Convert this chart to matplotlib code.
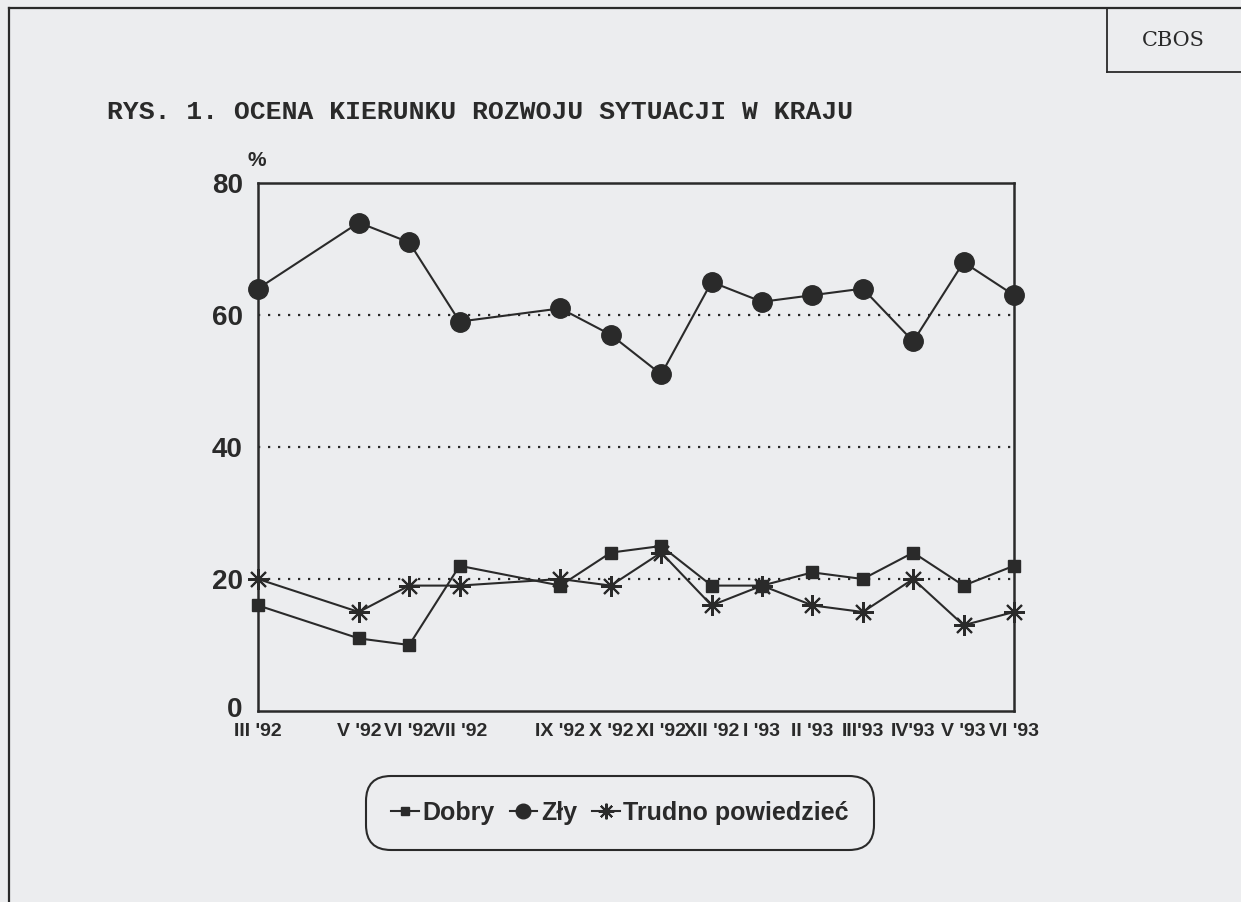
import numpy as np
import matplotlib
matplotlib.use("Agg")
import matplotlib.pyplot as plt
import matplotlib.transforms as mtransforms
from matplotlib.lines import Line2D

# month index from III '92 (0) to VI '93 (15); IV '92 and VIII '92 missing
months = [0, 2, 3, 4, 6, 7, 8, 9, 10, 11, 12, 13, 14, 15]
labels = ["III '92", "V '92", "VI '92", "VII '92", "IX '92", "X '92", "XI '92",
          "XII '92", "I '93", "II '93", "III'93", "IV'93", "V '93", "VI '93"]
dobry = [16, 11, 10, 22, 19, 24, 25, 19, 19, 21, 20, 24, 19, 22]
zly = [64, 74, 71, 59, 61, 57, 51, 65, 62, 63, 64, 56, 68, 63]
trudno = [20, 15, 19, 19, 20, 19, 24, 16, 19, 16, 15, 20, 13, 15]

W, H = 1241, 902
bg = '#ecedef'
ink = '#2a2a2a'
sans = ['Liberation Sans', 'DejaVu Sans']

fig = plt.figure(figsize=[W / 100, H / 100], dpi=100, facecolor=bg)

def fx(px):
    return px / W

def fy(py):
    return 1 - py / H

# outer frame and CBOS box
fig.add_artist(Line2D([fx(9), 1.0], [fy(8), fy(8)], color=ink, lw=1.6))
fig.add_artist(Line2D([fx(9), fx(9)], [fy(8), 0.0], color=ink, lw=1.6))
fig.add_artist(Line2D([fx(1107), fx(1107)], [fy(8), fy(72)], color=ink, lw=1.3))
fig.add_artist(Line2D([fx(1107), 1.0], [fy(72), fy(72)], color=ink, lw=1.3))
fig.text(fx(1173), fy(40), "CBOS", family='DejaVu Serif', fontsize=15,
         color=ink, ha='center', va='center')

fig.text(fx(107), fy(112), "RYS. 1. OCENA KIERUNKU ROZWOJU SYTUACJI W KRAJU",
         family='Liberation Mono', fontweight='bold', fontsize=19,
         color=ink, ha='left', va='center')

ax = fig.add_axes([fx(258), fy(711), fx(1014) - fx(258), fy(183) - fy(711)])
ax.set_facecolor(bg)

for v in [20, 40, 60]:
    ax.axhline(v, color=ink, lw=1.6, linestyle=(0, (1, 3.5)), zorder=1)

ax.plot(months, dobry, color=ink, lw=1.5, marker='s', ms=8.5,
        clip_on=False, zorder=3, label='Dobry')
ax.plot(months, zly, color=ink, lw=1.5, marker='o', ms=14,
        clip_on=False, zorder=4, label='Zły')
ax.plot(months, trudno, color=ink, lw=1.5, marker=(8, 2, 0), ms=15,
        mew=1.5, clip_on=False, zorder=2, label='Trudno powiedzieć')

ax.set_xlim(0, 15)
ax.set_ylim(0, 80)
ax.set_xticks(months)
ax.set_xticklabels(labels, family=sans, fontweight='bold', fontsize=14, color=ink)
ax.set_yticks([0, 20, 40, 60, 80])
ax.set_yticklabels(['0', '20', '40', '60', '80'], family=sans,
                   fontweight='bold', fontsize=20, color=ink)
ax.tick_params(axis='x', length=0, pad=9)
ax.tick_params(axis='y', length=0, pad=11)
# nudge the "0" label up so it sits just above the month labels
zero = ax.get_yticklabels()[0]
zero.set_transform(zero.get_transform() +
                   mtransforms.ScaledTranslation(0, 4 / 100, fig.dpi_scale_trans))
for s in ax.spines.values():
    s.set_linewidth(1.8)
    s.set_color(ink)

fig.text(fx(257), fy(160), "%", family=sans, fontweight='bold', fontsize=15,
         color=ink, ha='center', va='center')

leg = fig.legend(loc='center', bbox_to_anchor=(fx(620), fy(813)), ncol=3,
                 prop={'family': sans, 'weight': 'bold', 'size': 18},
                 handlelength=1.1, handletextpad=0.15, columnspacing=0.6,
                 borderpad=1.0, fancybox=True, frameon=True, markerscale=0.75)
frame = leg.get_frame()
frame.set_facecolor(bg)
frame.set_edgecolor(ink)
frame.set_linewidth(1.5)
frame.set_alpha(1)
frame.set_boxstyle('round,pad=0,rounding_size=1.0')
for t in leg.get_texts():
    t.set_color(ink)

plt.savefig("out.png", dpi=100, facecolor=bg)
